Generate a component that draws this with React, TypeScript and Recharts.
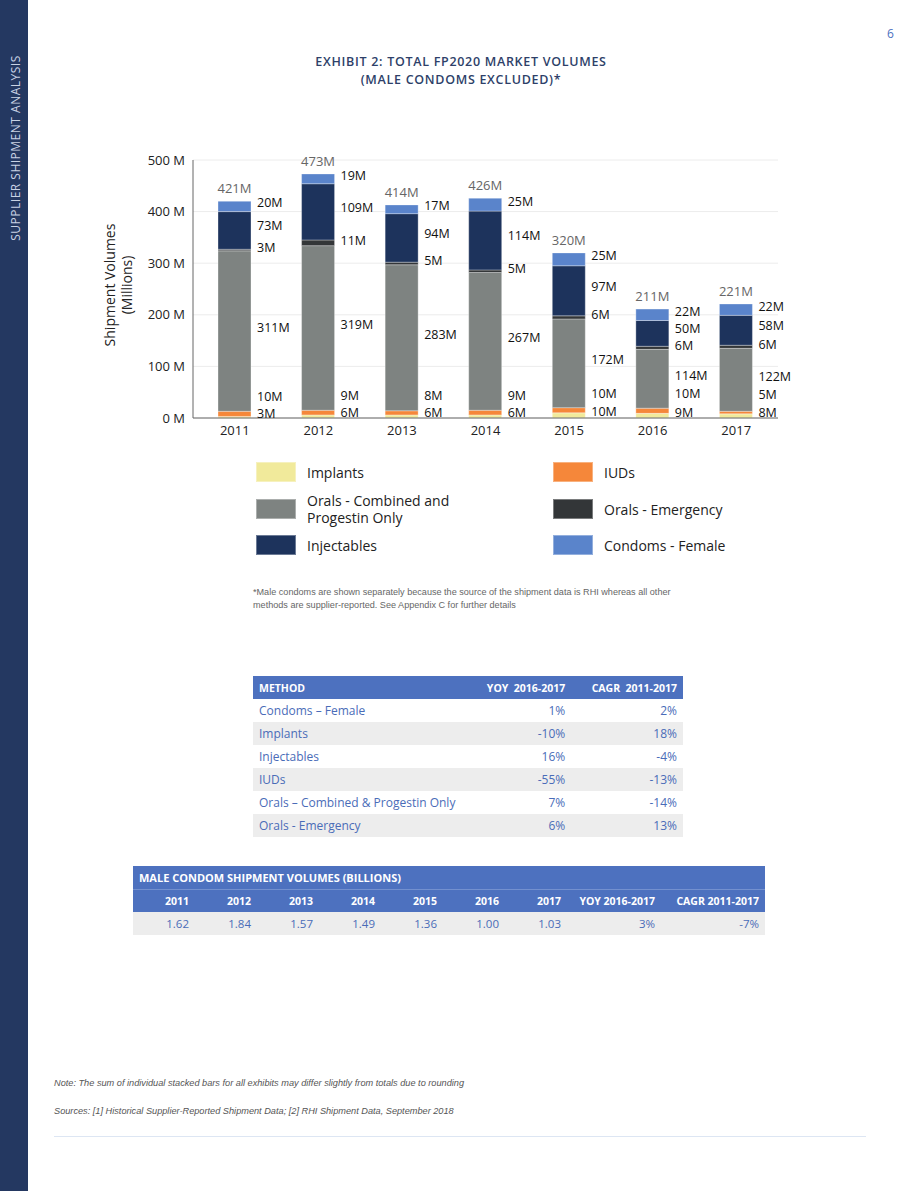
import React from 'react';
import { BarChart, Bar, XAxis, YAxis, CartesianGrid, LabelList } from 'recharts';

// chart data (millions), bottom segment first
const years = ['2011', '2012', '2013', '2014', '2015', '2016', '2017'];
const implants = [3, 6, 6, 6, 10, 9, 8];
const iuds = [10, 9, 8, 9, 10, 10, 5];
const oralsCombined = [311, 319, 283, 267, 172, 114, 122];
const oralsEmergency = [3, 11, 5, 5, 6, 6, 6];
const injectables = [73, 109, 94, 114, 97, 50, 58];
const condomsFemale = [20, 19, 17, 25, 25, 22, 22];
const totals = [421, 473, 414, 426, 320, 211, 221];
const yTicks = [0, 100, 200, 300, 400, 500];

// growth table
const methods = ['Condoms – Female', 'Implants', 'Injectables', 'IUDs', 'Orals – Combined & Progestin Only', 'Orals - Emergency'];
const yoy = ['1%', '-10%', '16%', '-55%', '7%', '6%'];
const cagr = ['2%', '18%', '-4%', '-13%', '-14%', '13%'];

// male condom table (billions)
const maleVolumes = ['1.62', '1.84', '1.57', '1.49', '1.36', '1.00', '1.03'];
const maleYoy = '3%';
const maleCagr = '-7%';

const series = [
  { key: 'implants', name: 'Implants', color: '#f1ea9b' },
  { key: 'iuds', name: 'IUDs', color: '#f5873a' },
  { key: 'oralsCombined', name: 'Orals - Combined and Progestin Only', color: '#7e8381' },
  { key: 'oralsEmergency', name: 'Orals - Emergency', color: '#333638' },
  { key: 'injectables', name: 'Injectables', color: '#1d335c' },
  { key: 'condomsFemale', name: 'Condoms - Female', color: '#5a84cb' },
];

const data = years.map((year, i) => ({
  year,
  implants: implants[i],
  iuds: iuds[i],
  oralsCombined: oralsCombined[i],
  oralsEmergency: oralsEmergency[i],
  injectables: injectables[i],
  condomsFemale: condomsFemale[i],
  total: totals[i],
}));

const FONT = '"Open Sans", "Noto Sans", sans-serif';
const BLUE = '#4d71bf';
const TEXT_BLUE = '#4a6cb8';

const pick = (props: any) => {
  const vb = props.viewBox || {};
  return {
    x: props.x ?? vb.x,
    y: props.y ?? vb.y,
    width: props.width ?? vb.width,
    height: props.height ?? vb.height,
  };
};

// shift: small nudge (px) so neighbouring labels don't collide
const segmentLabel = (key: string) => (props: any) => {
  const { x, y, width, height } = pick(props);
  let cy = y + height / 2;
  if (key === 'iuds') cy = Math.min(cy, y + height - 16);
  if (key === 'injectables') cy -= 1;
  if (key === 'oralsEmergency') cy += 1;
  return (
    <text x={x + width + 6} y={cy + 1} fill="#111" fontSize={12.5} fontFamily={FONT} textAnchor="start">
      {`${props.value}M`}
    </text>
  );
};

const totalLabel = (props: any) => {
  const { x, y, width } = pick(props);
  return (
    <text x={x + width / 2} y={y - 8} fill="#666" fontSize={13} fontFamily={FONT} textAnchor="middle">
      {`${props.value}M`}
    </text>
  );
};

const cell = (extra: React.CSSProperties = {}): React.CSSProperties => ({
  padding: '0 6px',
  height: 23,
  boxSizing: 'border-box',
  whiteSpace: 'nowrap',
  ...extra,
});

// legend item placed by the vertical centre of its swatch
const LegendItem = ({ color, label, x, cy }: { color: string; label: React.ReactNode; x: number; cy: number }) => (
  <div
    style={{
      position: 'absolute',
      left: x,
      top: cy,
      transform: 'translateY(-50%)',
      display: 'flex',
      alignItems: 'center',
    }}
  >
    <div style={{ width: 40, height: 20, background: color, boxShadow: 'inset 0 0 0 1px rgba(255,255,255,0.35)' }} />
    <div style={{ marginLeft: 11, fontSize: 14, lineHeight: '17px', color: '#222' }}>{label}</div>
  </div>
);

const noteStyle: React.CSSProperties = {
  position: 'absolute',
  left: 54,
  fontSize: 9.2,
  fontStyle: 'italic',
  color: '#555',
  fontFamily: '"Liberation Sans", Arial, sans-serif',
  whiteSpace: 'nowrap',
};

export default function App() {
  return (
    <div
      style={{
        position: 'absolute',
        left: 0,
        top: 0,
        width: 920,
        height: 1191,
        background: '#fff',
        fontFamily: FONT,
        overflow: 'hidden',
      }}
    >
      {/* side bar */}
      <div style={{ position: 'absolute', left: 0, top: 0, width: 28, height: 1191, background: '#243861' }} />
      <div
        style={{
          position: 'absolute',
          left: 16 - 110,
          top: 148 - 8,
          width: 220,
          height: 16,
          lineHeight: '16px',
          textAlign: 'center',
          transform: 'rotate(-90deg)',
          color: '#c9d2e4',
          fontSize: 12,
          letterSpacing: 0.5,
          whiteSpace: 'nowrap',
        }}
      >
        SUPPLIER SHIPMENT ANALYSIS
      </div>

      <div style={{ position: 'absolute', left: 887, top: 25, fontSize: 12, color: BLUE }}>6</div>

      {/* title */}
      <div
        style={{
          position: 'absolute',
          left: 261,
          top: 53,
          width: 400,
          textAlign: 'center',
          fontSize: 12.5,
          fontWeight: 600,
          letterSpacing: 0.7,
          lineHeight: '18px',
          color: '#2e3f69',
        }}
      >
        EXHIBIT 2: TOTAL FP2020 MARKET VOLUMES
        <br />
        (MALE CONDOMS EXCLUDED)*
      </div>

      {/* y axis title */}
      <div
        style={{
          position: 'absolute',
          left: 118 - 80,
          top: 285 - 17,
          width: 160,
          height: 34,
          lineHeight: '17px',
          textAlign: 'center',
          transform: 'rotate(-90deg)',
          fontSize: 14,
          color: '#222',
        }}
      >
        Shipment Volumes
        <br />
        (Millions)
      </div>

      <div style={{ position: 'absolute', left: 0, top: 140 }}>
        <BarChart width={820} height={308} data={data} margin={{ top: 20, right: 42, left: 133, bottom: 0 }} barSize={33}>
          <CartesianGrid vertical={false} stroke="#ececec" />
          <XAxis
            dataKey="year"
            axisLine={{ stroke: '#666' }}
            tickLine={false}
            tick={{ fill: '#222', fontSize: 13, fontFamily: FONT }}
          />
          <YAxis
            domain={[0, 500]}
            ticks={yTicks}
            axisLine={{ stroke: '#666' }}
            tickLine={false}
            tickFormatter={(v: number) => `${v} M`}
            tick={{ fill: '#222', fontSize: 13, fontFamily: FONT }}
          />
          {series.map((s) => (
            <Bar
              key={s.key}
              dataKey={s.key}
              name={s.name}
              stackId="a"
              fill={s.color}
              stroke="rgba(255,255,255,0.55)"
              strokeWidth={0.6}
              isAnimationActive={false}
            >
              <LabelList dataKey={s.key} content={segmentLabel(s.key)} />
              {s.key === 'condomsFemale' && <LabelList dataKey="total" content={totalLabel} />}
            </Bar>
          ))}
        </BarChart>
      </div>

      {/* legend */}
      <LegendItem color={series[0].color} label="Implants" x={256} cy={472} />
      <LegendItem
        color={series[2].color}
        label={
          <>
            Orals - Combined and
            <br />
            Progestin Only
          </>
        }
        x={256}
        cy={509}
      />
      <LegendItem color={series[4].color} label="Injectables" x={256} cy={545} />
      <LegendItem color={series[1].color} label="IUDs" x={553} cy={472} />
      <LegendItem color={series[3].color} label="Orals - Emergency" x={553} cy={509} />
      <LegendItem color={series[5].color} label="Condoms - Female" x={553} cy={545} />

      <div
        style={{
          position: 'absolute',
          left: 253,
          top: 586,
          fontSize: 9.1,
          lineHeight: '13px',
          color: '#666',
          fontFamily: '"Liberation Sans", Arial, sans-serif',
          whiteSpace: 'nowrap',
        }}
      >
        *Male condoms are shown separately because the source of the shipment data is RHI whereas all other
        <br />
        methods are supplier-reported. See Appendix C for further details
      </div>

      {/* growth table */}
      <table
        style={{
          position: 'absolute',
          left: 253,
          top: 676,
          width: 430,
          borderCollapse: 'collapse',
          fontSize: 12,
          color: TEXT_BLUE,
        }}
      >
        <thead>
          <tr style={{ background: BLUE, color: '#fff', fontWeight: 700, fontSize: 10.5 }}>
            <th style={cell({ textAlign: 'left' })}>METHOD</th>
            <th style={cell({ textAlign: 'right', width: 110 })}>YOY&nbsp;&nbsp;2016-2017</th>
            <th style={cell({ textAlign: 'right', width: 112 })}>CAGR&nbsp;&nbsp;2011-2017</th>
          </tr>
        </thead>
        <tbody>
          {methods.map((m, i) => (
            <tr key={m} style={{ background: i % 2 === 1 ? '#ededed' : '#fff' }}>
              <td style={cell({ textAlign: 'left' })}>{m}</td>
              <td style={cell({ textAlign: 'right' })}>{yoy[i]}</td>
              <td style={cell({ textAlign: 'right' })}>{cagr[i]}</td>
            </tr>
          ))}
        </tbody>
      </table>

      {/* male condom table */}
      <table
        style={{
          position: 'absolute',
          left: 133,
          top: 866,
          width: 632,
          borderCollapse: 'collapse',
          tableLayout: 'fixed',
          fontSize: 11.5,
          color: TEXT_BLUE,
        }}
      >
        <colgroup>
          {years.map((y) => (
            <col key={y} style={{ width: 62 }} />
          ))}
          <col style={{ width: 94 }} />
          <col style={{ width: 104 }} />
        </colgroup>
        <thead>
          <tr style={{ background: BLUE, color: '#fff', fontWeight: 700 }}>
            <th colSpan={9} style={cell({ textAlign: 'left', fontSize: 11 })}>
              MALE CONDOM SHIPMENT VOLUMES (BILLIONS)
            </th>
          </tr>
          <tr style={{ background: BLUE, color: '#fff', fontWeight: 700, fontSize: 10.5, borderTop: '1px solid #7390cf' }}>
            {years.map((y) => (
              <th key={y} style={cell({ textAlign: 'right' })}>
                {y}
              </th>
            ))}
            <th style={cell({ textAlign: 'right' })}>YOY 2016-2017</th>
            <th style={cell({ textAlign: 'right' })}>CAGR 2011-2017</th>
          </tr>
        </thead>
        <tbody>
          <tr style={{ background: '#ededed' }}>
            {maleVolumes.map((v, i) => (
              <td key={years[i]} style={cell({ textAlign: 'right' })}>
                {v}
              </td>
            ))}
            <td style={cell({ textAlign: 'right' })}>{maleYoy}</td>
            <td style={cell({ textAlign: 'right' })}>{maleCagr}</td>
          </tr>
        </tbody>
      </table>

      {/* notes */}
      <div style={{ ...noteStyle, top: 1078 }}>
        Note: The sum of individual stacked bars for all exhibits may differ slightly from totals due to rounding
      </div>
      <div style={{ ...noteStyle, top: 1106 }}>
        Sources: [1] Historical Supplier-Reported Shipment Data; [2] RHI Shipment Data, September 2018
      </div>
      <div style={{ position: 'absolute', left: 54, top: 1136, width: 812, height: 1, background: '#dde6f3' }} />
    </div>
  );
}
